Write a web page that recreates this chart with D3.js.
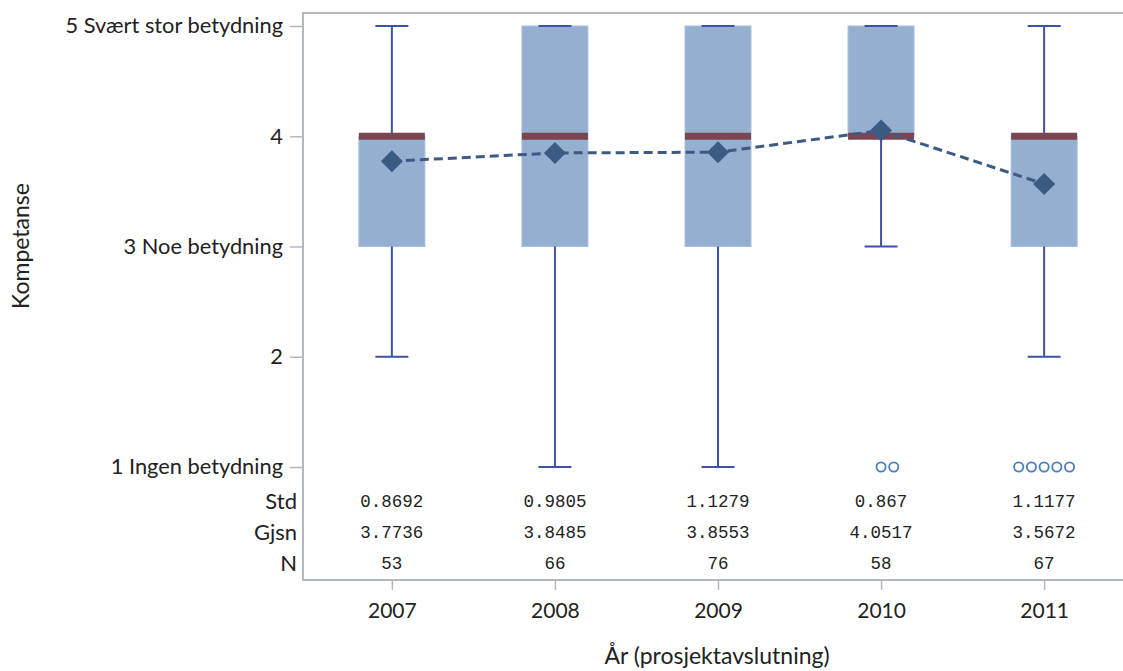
<!DOCTYPE html>
<html>
<head>
<meta charset="utf-8">
<script src="https://cdn.jsdelivr.net/npm/d3@7"></script>
<style>
  html, body { margin: 0; padding: 0; background: #fff; }
  svg { display: block; }
  .lbl { font-family: Lato, "Open Sans", sans-serif; fill: #222; }
  .mono { font-family: "Liberation Mono", "DejaVu Sans Mono", monospace; fill: #222; }
</style>
</head>
<body>
<svg id="chart" width="1123" height="671"></svg>
<script>
// Boxplot of competence rating by project completion year
const years    = ["2007", "2008", "2009", "2010", "2011"];
const minVals  = [2, 1, 1, 3, 2];
const q1Vals   = [3, 3, 3, 4, 3];
const medians  = [4, 4, 4, 4, 4];
const q3Vals   = [4, 5, 5, 5, 4];
const maxVals  = [5, 5, 5, 5, 5];
const means    = [3.7736, 3.8485, 3.8553, 4.0517, 3.5672];
const stds     = [0.8692, 0.9805, 1.1279, 0.867, 1.1177];
const counts   = [53, 66, 76, 58, 67];
const outliers = [[], [], [], [1, 1], [1, 1, 1, 1, 1]];

const yTickValues = [1, 2, 3, 4, 5];
const yTickLabels = ["1 Ingen betydning", "2", "3 Noe betydning", "4", "5 Svært stor betydning"];
const statRows = ["Std", "Gjsn", "N"];
const statValues = [stds, means, counts];

const svg = d3.select("#chart");

const frame = { left: 303, top: 13, right: 1133, bottom: 580 };

const x = d3.scalePoint().domain(years).range([frame.left, frame.right]).padding(0.545);
const y = d3.scaleLinear().domain([1, 5]).range([467, 26]);

const colors = {
  frame: "#b3b7be",
  box: "#94afcf",
  whisker: "#3d52a6",
  median: "#7b4652",
  mean: "#3b5b84",
  outlier: "#4a7ebd"
};

const boxW = 66, capW = 33, medH = 7, diamond = 11, outStep = 12.7;

// plot frame (right side runs off the page)
svg.append("rect")
  .attr("x", frame.left).attr("y", frame.top)
  .attr("width", frame.right - frame.left).attr("height", frame.bottom - frame.top)
  .attr("fill", "none").attr("stroke", colors.frame).attr("stroke-width", 2);

// y axis
const yAxis = d3.axisLeft(y).tickValues(yTickValues)
  .tickFormat((d, i) => yTickLabels[i]).tickSize(13).tickPadding(7);
const gy = svg.append("g").attr("transform", `translate(${frame.left},0)`).call(yAxis);
gy.select(".domain").remove();
gy.selectAll(".tick line").attr("stroke", colors.frame).attr("stroke-width", 1.5);
gy.selectAll(".tick text").attr("class", "lbl").style("font-size", "21.8px").attr("fill", "#222");

// x axis
const xAxis = d3.axisBottom(x).tickSize(10).tickPadding(13);
const gx = svg.append("g").attr("transform", `translate(0,${frame.bottom})`).call(xAxis);
gx.select(".domain").remove();
gx.selectAll(".tick line").attr("stroke", colors.frame).attr("stroke-width", 1.5);
gx.selectAll(".tick text").attr("class", "lbl").style("font-size", "21px").attr("fill", "#222");

// axis titles
svg.append("text").attr("class", "lbl")
  .attr("transform", "translate(29,246) rotate(-90)")
  .attr("text-anchor", "middle").style("font-size", "23px")
  .text("Kompetanse");
svg.append("text").attr("class", "lbl")
  .attr("x", 717).attr("y", 664)
  .attr("text-anchor", "middle").style("font-size", "23px")
  .text("År (prosjektavslutning)");

const data = years.map((yr, i) => ({
  yr, min: minVals[i], q1: q1Vals[i], med: medians[i], q3: q3Vals[i],
  max: maxVals[i], mean: means[i], out: outliers[i]
}));

const g = svg.append("g");

// boxes
g.selectAll("rect.box").data(data).join("rect").attr("class", "box")
  .attr("x", d => x(d.yr) - boxW / 2).attr("width", boxW)
  .attr("y", d => y(d.q3)).attr("height", d => y(d.q1) - y(d.q3))
  .attr("fill", colors.box).attr("stroke", "#a9c0dc").attr("stroke-width", 1);

// whiskers
data.forEach(d => {
  const cx = x(d.yr);
  const wg = g.append("g").attr("stroke", colors.whisker).attr("stroke-width", 2).attr("fill", "none");
  wg.append("line").attr("x1", cx).attr("x2", cx).attr("y1", y(d.max)).attr("y2", y(d.q3));
  wg.append("line").attr("x1", cx).attr("x2", cx).attr("y1", y(d.q1)).attr("y2", y(d.min));
  wg.append("line").attr("x1", cx - capW / 2).attr("x2", cx + capW / 2).attr("y1", y(d.max)).attr("y2", y(d.max));
  wg.append("line").attr("x1", cx - capW / 2).attr("x2", cx + capW / 2).attr("y1", y(d.min)).attr("y2", y(d.min));
});

// medians
g.selectAll("rect.med").data(data).join("rect").attr("class", "med")
  .attr("x", d => x(d.yr) - boxW / 2).attr("width", boxW)
  .attr("y", d => y(d.med) - medH / 2).attr("height", medH)
  .attr("fill", colors.median);

// outliers, spread sideways when several share a value: 0, +1, -1, +2, -2 ...
data.forEach(d => {
  d.out.forEach((v, k) => {
    const idx = k === 0 ? 0 : (k % 2 === 1 ? (k + 1) / 2 : -k / 2);
    g.append("circle")
      .attr("cx", x(d.yr) + idx * outStep).attr("cy", y(v)).attr("r", 4.6)
      .attr("fill", "none").attr("stroke", colors.outlier).attr("stroke-width", 1.8);
  });
});

// mean connecting line
g.append("path").datum(data)
  .attr("d", d3.line().x(d => x(d.yr)).y(d => y(d.mean)))
  .attr("fill", "none").attr("stroke", colors.mean)
  .attr("stroke-width", 3).attr("stroke-dasharray", "9,5");

// mean diamonds
g.selectAll("path.mean").data(data).join("path").attr("class", "mean")
  .attr("d", d => {
    const cx = x(d.yr), cy = y(d.mean);
    return `M${cx},${cy - diamond}L${cx + diamond},${cy}L${cx},${cy + diamond}L${cx - diamond},${cy}Z`;
  })
  .attr("fill", colors.mean);

// statistics table inside the frame
const rowY = [501, 532, 563];
statRows.forEach((name, r) => {
  svg.append("text").attr("class", "lbl")
    .attr("x", 297).attr("y", rowY[r]).attr("dy", "0.35em")
    .attr("text-anchor", "end").style("font-size", "22px")
    .text(name);
  years.forEach((yr, i) => {
    svg.append("text").attr("class", "mono")
      .attr("x", x(yr)).attr("y", rowY[r]).attr("dy", "0.35em")
      .attr("text-anchor", "middle").style("font-size", "17.5px")
      .text(String(statValues[r][i]));
  });
});
</script>
</body>
</html>
